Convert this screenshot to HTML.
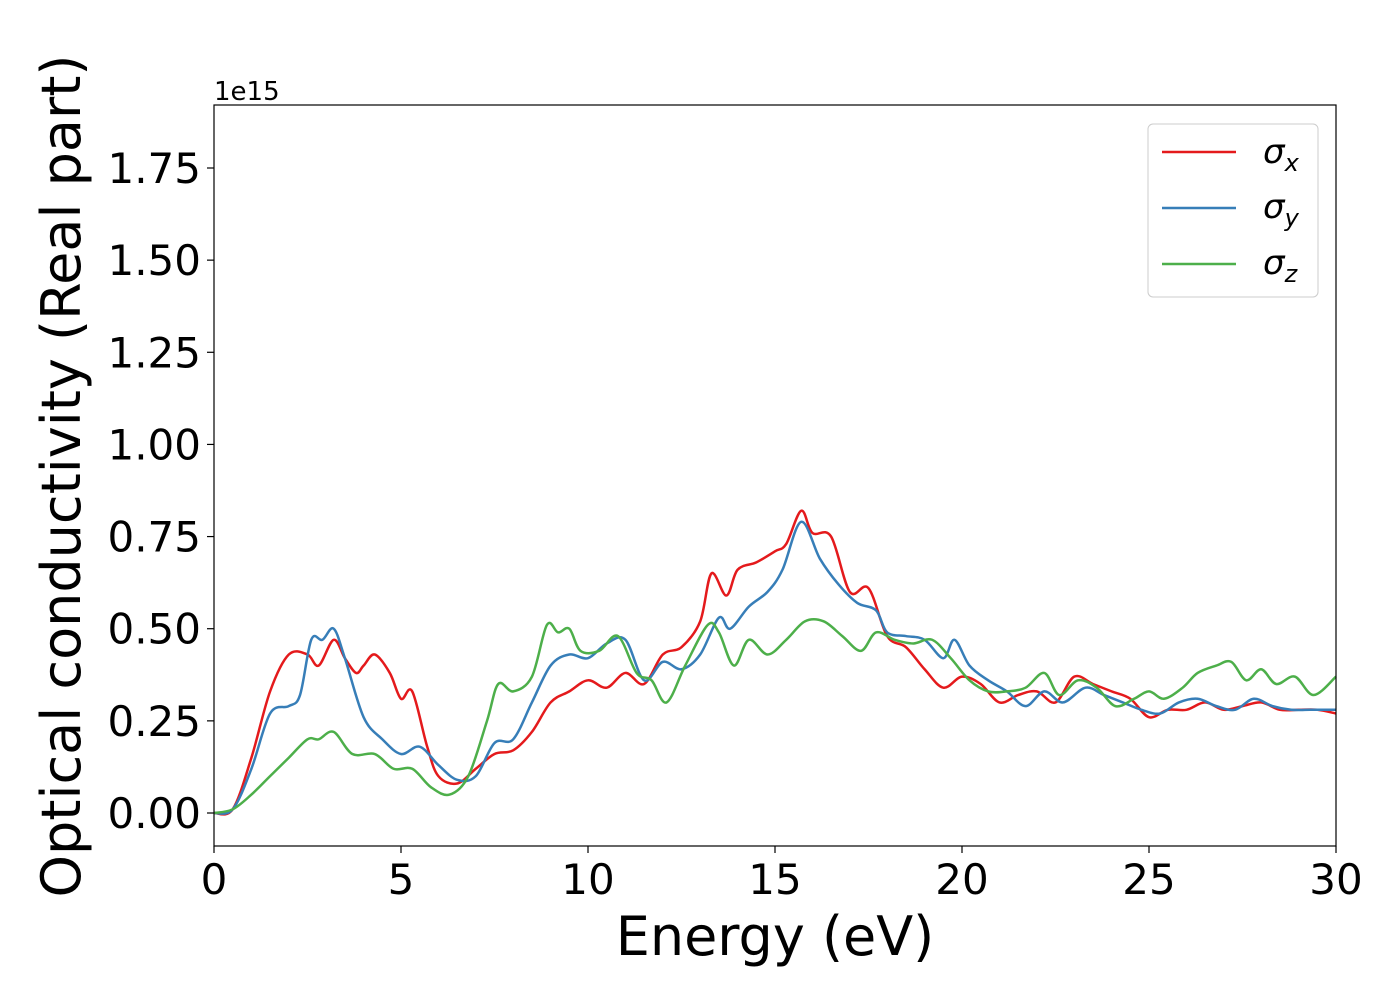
<!DOCTYPE html>
<html><head><meta charset="utf-8"><style>
body{margin:0;background:#fff;font-family:"DejaVu Sans","Liberation Sans",sans-serif}
svg text{font-family:"DejaVu Sans","Liberation Sans",sans-serif}
</style></head><body>
<svg id="chart" width="1400" height="1000" xmlns="http://www.w3.org/2000/svg">
<g id="axes"></g>
<g id="series"></g>
<rect x="214" y="105" width="1122" height="741" fill="none" stroke="#000" stroke-width="1.2"/>
<text x="214" y="100" font-size="26">1e15</text>
<text x="775" y="955" font-size="54" text-anchor="middle">Energy (eV)</text>
<text transform="translate(80,476) rotate(-90)" font-size="54" text-anchor="middle">Optical conductivity (Real part)</text>
<g>
<rect x="1148" y="124" width="170" height="173" rx="5" fill="#fff" stroke="#ccc"/>
<line x1="1162" y1="152" x2="1236" y2="152" stroke="#e41a1c" stroke-width="2.5"/>
<text x="1263" y="163" font-size="34" font-style="italic">σ<tspan font-size="24" dy="8">x</tspan></text>
<line x1="1162" y1="208" x2="1236" y2="208" stroke="#377eb8" stroke-width="2.5"/>
<text x="1263" y="218" font-size="34" font-style="italic">σ<tspan font-size="24" dy="8">y</tspan></text>
<line x1="1162" y1="264" x2="1236" y2="264" stroke="#4daf4a" stroke-width="2.5"/>
<text x="1263" y="274" font-size="34" font-style="italic">σ<tspan font-size="24" dy="8">z</tspan></text>
</g>
</svg>
<script>
const xTicks=[0,5,10,15,20,25,30];
const yTicks=[0,0.25,0.5,0.75,1.0,1.25,1.5,1.75];
const yTickLabels=["0.00","0.25","0.50","0.75","1.00","1.25","1.50","1.75"];
const sxE=[0,0.5,1,1.5,2,2.5,2.8,3.2,3.5,3.8,4.0,4.3,4.7,5.0,5.3,5.7,6.0,6.5,7,7.5,8,8.5,9,9.5,10,10.5,11,11.5,12,12.5,13,13.3,13.7,14,14.5,15,15.3,15.7,16,16.5,17,17.5,18,18.5,19,19.5,20,20.5,21,21.5,22,22.5,23,23.5,24,24.5,25,25.5,26,26.5,27,27.5,28,28.5,29,29.5,30];
const sxV=[0,0.01,0.15,0.33,0.43,0.43,0.40,0.47,0.42,0.38,0.40,0.43,0.38,0.31,0.33,0.18,0.10,0.08,0.12,0.16,0.17,0.22,0.30,0.33,0.36,0.34,0.38,0.35,0.43,0.45,0.52,0.65,0.59,0.66,0.68,0.71,0.73,0.82,0.76,0.75,0.60,0.61,0.48,0.45,0.39,0.34,0.37,0.35,0.30,0.32,0.33,0.30,0.37,0.35,0.33,0.31,0.26,0.28,0.28,0.30,0.28,0.29,0.30,0.28,0.28,0.28,0.27];
const syE=[0,0.5,1,1.5,2,2.3,2.6,2.9,3.2,3.5,4,4.5,5,5.5,6,6.5,7,7.5,8,8.5,9,9.5,10,10.5,11,11.5,12,12.5,13,13.5,13.8,14.3,14.8,15.2,15.7,16.2,16.7,17.2,17.7,18,18.5,19,19.5,19.8,20.2,20.7,21.2,21.7,22.2,22.7,23.3,23.8,24.3,24.8,25.3,25.8,26.3,26.8,27.3,27.8,28.3,28.8,29.3,30];
const syV=[0,0.01,0.12,0.27,0.29,0.32,0.47,0.47,0.50,0.42,0.26,0.20,0.16,0.18,0.13,0.09,0.10,0.19,0.20,0.30,0.40,0.43,0.42,0.46,0.47,0.36,0.41,0.39,0.43,0.53,0.50,0.56,0.60,0.66,0.79,0.69,0.62,0.57,0.55,0.49,0.48,0.47,0.42,0.47,0.40,0.36,0.33,0.29,0.33,0.30,0.34,0.32,0.30,0.28,0.27,0.30,0.31,0.29,0.28,0.31,0.29,0.28,0.28,0.28];
const szE=[0,0.5,1,1.5,2,2.5,2.8,3.2,3.7,4.3,4.8,5.3,5.8,6.3,6.8,7.3,7.6,8,8.5,8.9,9.2,9.5,9.8,10.3,10.8,11.3,11.7,12.1,12.6,13.2,13.5,13.9,14.3,14.8,15.3,15.8,16.3,16.8,17.3,17.7,18.2,18.7,19.2,19.7,20.2,20.7,21.2,21.7,22.2,22.6,23.1,23.6,24.1,24.6,25,25.4,25.9,26.3,26.8,27.2,27.6,28,28.4,28.9,29.4,30];
const szV=[0,0.01,0.05,0.10,0.15,0.20,0.20,0.22,0.16,0.16,0.12,0.12,0.07,0.05,0.10,0.25,0.35,0.33,0.37,0.51,0.49,0.50,0.44,0.44,0.48,0.38,0.36,0.30,0.40,0.51,0.49,0.40,0.47,0.43,0.47,0.52,0.52,0.48,0.44,0.49,0.47,0.46,0.47,0.42,0.36,0.33,0.33,0.34,0.38,0.32,0.36,0.34,0.29,0.31,0.33,0.31,0.34,0.38,0.40,0.41,0.36,0.39,0.35,0.37,0.32,0.37];
const X=e=>214+e*(1122/30);
const Y=v=>813-v*(645/1.75);
const NS="http://www.w3.org/2000/svg";
const axes=document.getElementById('axes');
function mk(t,a,p){const el=document.createElementNS(NS,t);for(const k in a)el.setAttribute(k,a[k]);p.appendChild(el);return el;}
xTicks.forEach(t=>{
  const l=mk('line',{x1:X(t),x2:X(t),y1:846,y2:853,stroke:'#000','stroke-width':1.2},axes);
  
  
  const tx=mk('text',{x:X(t),y:894,'font-size':42,'text-anchor':'middle'},axes);
  tx.textContent=t;
  
  
});
yTicks.forEach((t,i)=>{
  const l=mk('line',{x1:207,x2:214,y1:Y(t),y2:Y(t),stroke:'#000','stroke-width':1.2},axes);
  
  
  const tx=mk('text',{x:201,y:Y(t)+15,'font-size':42,'text-anchor':'end'},axes);
  tx.textContent=yTickLabels[i];
  
  
});
function path(E,V){
  const p=E.map((e,i)=>[X(e),Y(V[i])]);
  let d='M'+p[0][0]+','+p[0][1];
  for(let i=0;i<p.length-1;i++){
    const p0=p[Math.max(0,i-1)],p1=p[i],p2=p[i+1],p3=p[Math.min(p.length-1,i+2)];
    const c1=[p1[0]+(p2[0]-p0[0])/6,p1[1]+(p2[1]-p0[1])/6];
    const c2=[p2[0]-(p3[0]-p1[0])/6,p2[1]-(p3[1]-p1[1])/6];
    d+=' C'+c1+' '+c2+' '+p2;
  }
  return d;
}
const sg=document.getElementById('series');
[[sxE,sxV,'#e41a1c','sigma-x-line'],[syE,syV,'#377eb8','sigma-y-line'],[szE,szV,'#4daf4a','sigma-z-line']].forEach(s=>{
  const el=mk('path',{d:path(s[0],s[1]),fill:'none',stroke:s[2],'stroke-width':2.5},sg);
  
  
});
</script>
</body></html>
